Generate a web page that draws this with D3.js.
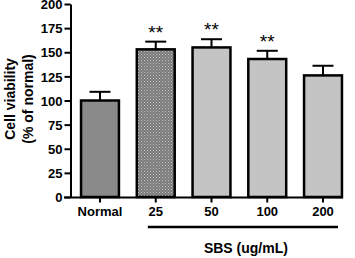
<!DOCTYPE html>
<html>
<head>
<meta charset="utf-8">
<script src="https://cdn.jsdelivr.net/npm/d3@7"></script>
<style>
  body { margin: 0; background: #fff; }
  text { font-family: "Liberation Sans", Arial, sans-serif; font-weight: bold; fill: #000; }
</style>
</head>
<body>
<div id="chart"></div>
<script>
var groups = ['Normal', '25', '50', '100', '200'];
var viability = [100, 153, 155, 143, 126];
var sem = [9, 8, 8.5, 8.5, 10];
var marks = ['', '**', '**', '**', ''];
var yTicks = [0, 25, 50, 75, 100, 125, 150, 175, 200];

var width = 355, height = 258;

var svg = d3.select('#chart').append('svg')
    .attr('width', width)
    .attr('height', height);

// dotted fill for the 25 bar
var pat = svg.append('defs').append('pattern')
    .attr('id', 'dots')
    .attr('width', 3).attr('height', 3)
    .attr('patternUnits', 'userSpaceOnUse');
pat.append('rect').attr('width', 3).attr('height', 3).style('fill', '#7a7a7a');
pat.append('rect').attr('x', 0).attr('y', 0).attr('width', 1).attr('height', 1).style('fill', '#c4c4c4');
pat.append('rect').attr('x', 1.5).attr('y', 1.5).attr('width', 1).attr('height', 1).style('fill', '#b0b0b0');

var fills = ['#8a8a8a', 'url(#dots)', '#c4c4c4', '#c4c4c4', '#c4c4c4'];

var x = d3.scaleBand().domain(groups).range([71, 352]).paddingInner(0.32).paddingOuter(0.18);
var y = d3.scaleLinear().domain([0, 200]).range([197, 4]);

// bars
svg.selectAll('rect.bar')
    .data(groups)
  .enter().append('rect')
    .attr('class', 'bar')
    .attr('x', function(d) { return x(d); })
    .attr('y', function(d, i) { return y(viability[i]); })
    .attr('width', x.bandwidth())
    .attr('height', function(d, i) { return y(0) - y(viability[i]); })
    .style('fill', function(d, i) { return fills[i]; })
    .style('stroke', '#000')
    .style('stroke-width', '2.5px');

// error bars
var eb = svg.selectAll('g.err')
    .data(groups)
  .enter().append('g')
    .attr('class', 'err');
eb.append('line')
    .attr('x1', function(d) { return x(d) + x.bandwidth() / 2; })
    .attr('x2', function(d) { return x(d) + x.bandwidth() / 2; })
    .attr('y1', function(d, i) { return y(viability[i]); })
    .attr('y2', function(d, i) { return y(viability[i] + sem[i]); })
    .style('stroke', '#000').style('stroke-width', '2px');
eb.append('line')
    .attr('x1', function(d) { return x(d) + x.bandwidth() / 2 - 10.5; })
    .attr('x2', function(d) { return x(d) + x.bandwidth() / 2 + 10.5; })
    .attr('y1', function(d, i) { return y(viability[i] + sem[i]); })
    .attr('y2', function(d, i) { return y(viability[i] + sem[i]); })
    .style('stroke', '#000').style('stroke-width', '2px');

// significance stars
svg.selectAll('text.sig')
    .data(groups)
  .enter().append('text')
    .attr('class', 'sig')
    .attr('x', function(d) { return x(d) + x.bandwidth() / 2; })
    .attr('y', function(d, i) { return y(viability[i] + sem[i]) - 3; })
    .attr('text-anchor', 'middle')
    .style('font-size', '19px')
    .style('font-weight', 'normal')
    .text(function(d, i) { return marks[i]; });

// Y axis
var yAxis = svg.append('g')
    .attr('transform', 'translate(70.5,0)')
    .call(d3.axisLeft(y).tickValues(yTicks).tickSize(6).tickPadding(2).tickSizeOuter(0));
yAxis.select('.domain').style('stroke-width', '2px');
yAxis.selectAll('.tick line').style('stroke-width', '2px');
yAxis.selectAll('.tick text').style('font-size', '13px').attr('dy', '0.36em');

// X axis
var xAxis = svg.append('g')
    .attr('transform', 'translate(0,197.5)')
    .call(d3.axisBottom(x).tickSize(5).tickPadding(4));
xAxis.select('.domain').remove();
xAxis.selectAll('.tick line').style('stroke-width', '2px');
xAxis.selectAll('.tick text').style('font-size', '13px');
xAxis.append('line')
    .attr('x1', 64).attr('x2', 343)
    .attr('y1', 0).attr('y2', 0)
    .style('stroke', '#000').style('stroke-width', '2px');

// bracket under the SBS doses
var bx0 = x('25') + 11, bx1 = x('200') + x.bandwidth() - 4;
svg.append('line')
    .attr('x1', bx0).attr('x2', bx1)
    .attr('y1', 227).attr('y2', 227)
    .style('stroke', '#000').style('stroke-width', '2.5px');

svg.append('text')
    .attr('x', (bx0 + bx1) / 2 + 3)
    .attr('y', 253)
    .attr('text-anchor', 'middle')
    .style('font-size', '14px')
    .text('SBS (ug/mL)');

// Y title
var yt = svg.append('text')
    .attr('transform', 'translate(15,99) rotate(-90)')
    .attr('text-anchor', 'middle')
    .style('font-size', '14px');
yt.append('tspan').attr('x', 0).attr('dy', 0).text('Cell viability');
yt.append('tspan').attr('x', 0).attr('dy', '1.25em').text('(% of normal)');
</script>
</body>
</html>
